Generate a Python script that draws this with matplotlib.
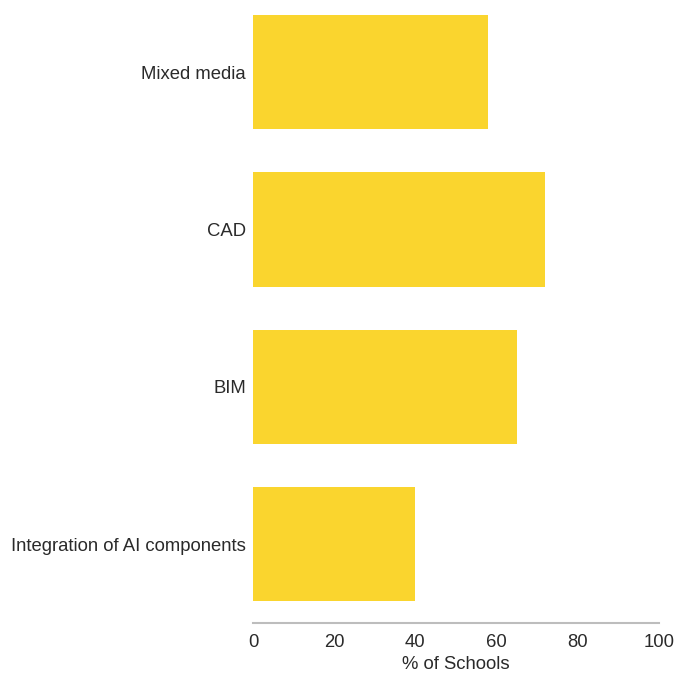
import matplotlib
matplotlib.use("Agg")
import matplotlib.pyplot as plt

categories = ["Integration of AI components", "BIM", "CAD", "Mixed media"]
values = [40, 65, 72, 58]

plt.rcParams['font.family'] = ['Liberation Sans', 'DejaVu Sans']

fig = plt.figure(figsize=(6.78, 6.73), dpi=100)
ax = fig.add_axes([253 / 678, 50 / 673, 406 / 678, 623 / 673])

ax.barh(range(len(categories)), values, height=0.725, color='#FAD52E')
ax.set_yticks(range(len(categories)))
ax.set_yticklabels(categories)
ax.set_xlim(0, 100)
ax.set_ylim(-0.5, 3.458)
ax.set_xticks([0, 20, 40, 60, 80, 100])

for side in ['top', 'right', 'left']:
    ax.spines[side].set_visible(False)
ax.spines['bottom'].set_color('#bdbdbd')
ax.spines['bottom'].set_linewidth(1.5)

ax.tick_params(axis='both', length=0, labelsize=13.3, colors='#2a2a2a')
ax.tick_params(axis='y', pad=5)
ax.tick_params(axis='x', pad=8)
ax.set_xlabel('% of Schools', fontsize=13.3, color='#2a2a2a', labelpad=3.5)

fig.savefig('out.png', dpi=100)
